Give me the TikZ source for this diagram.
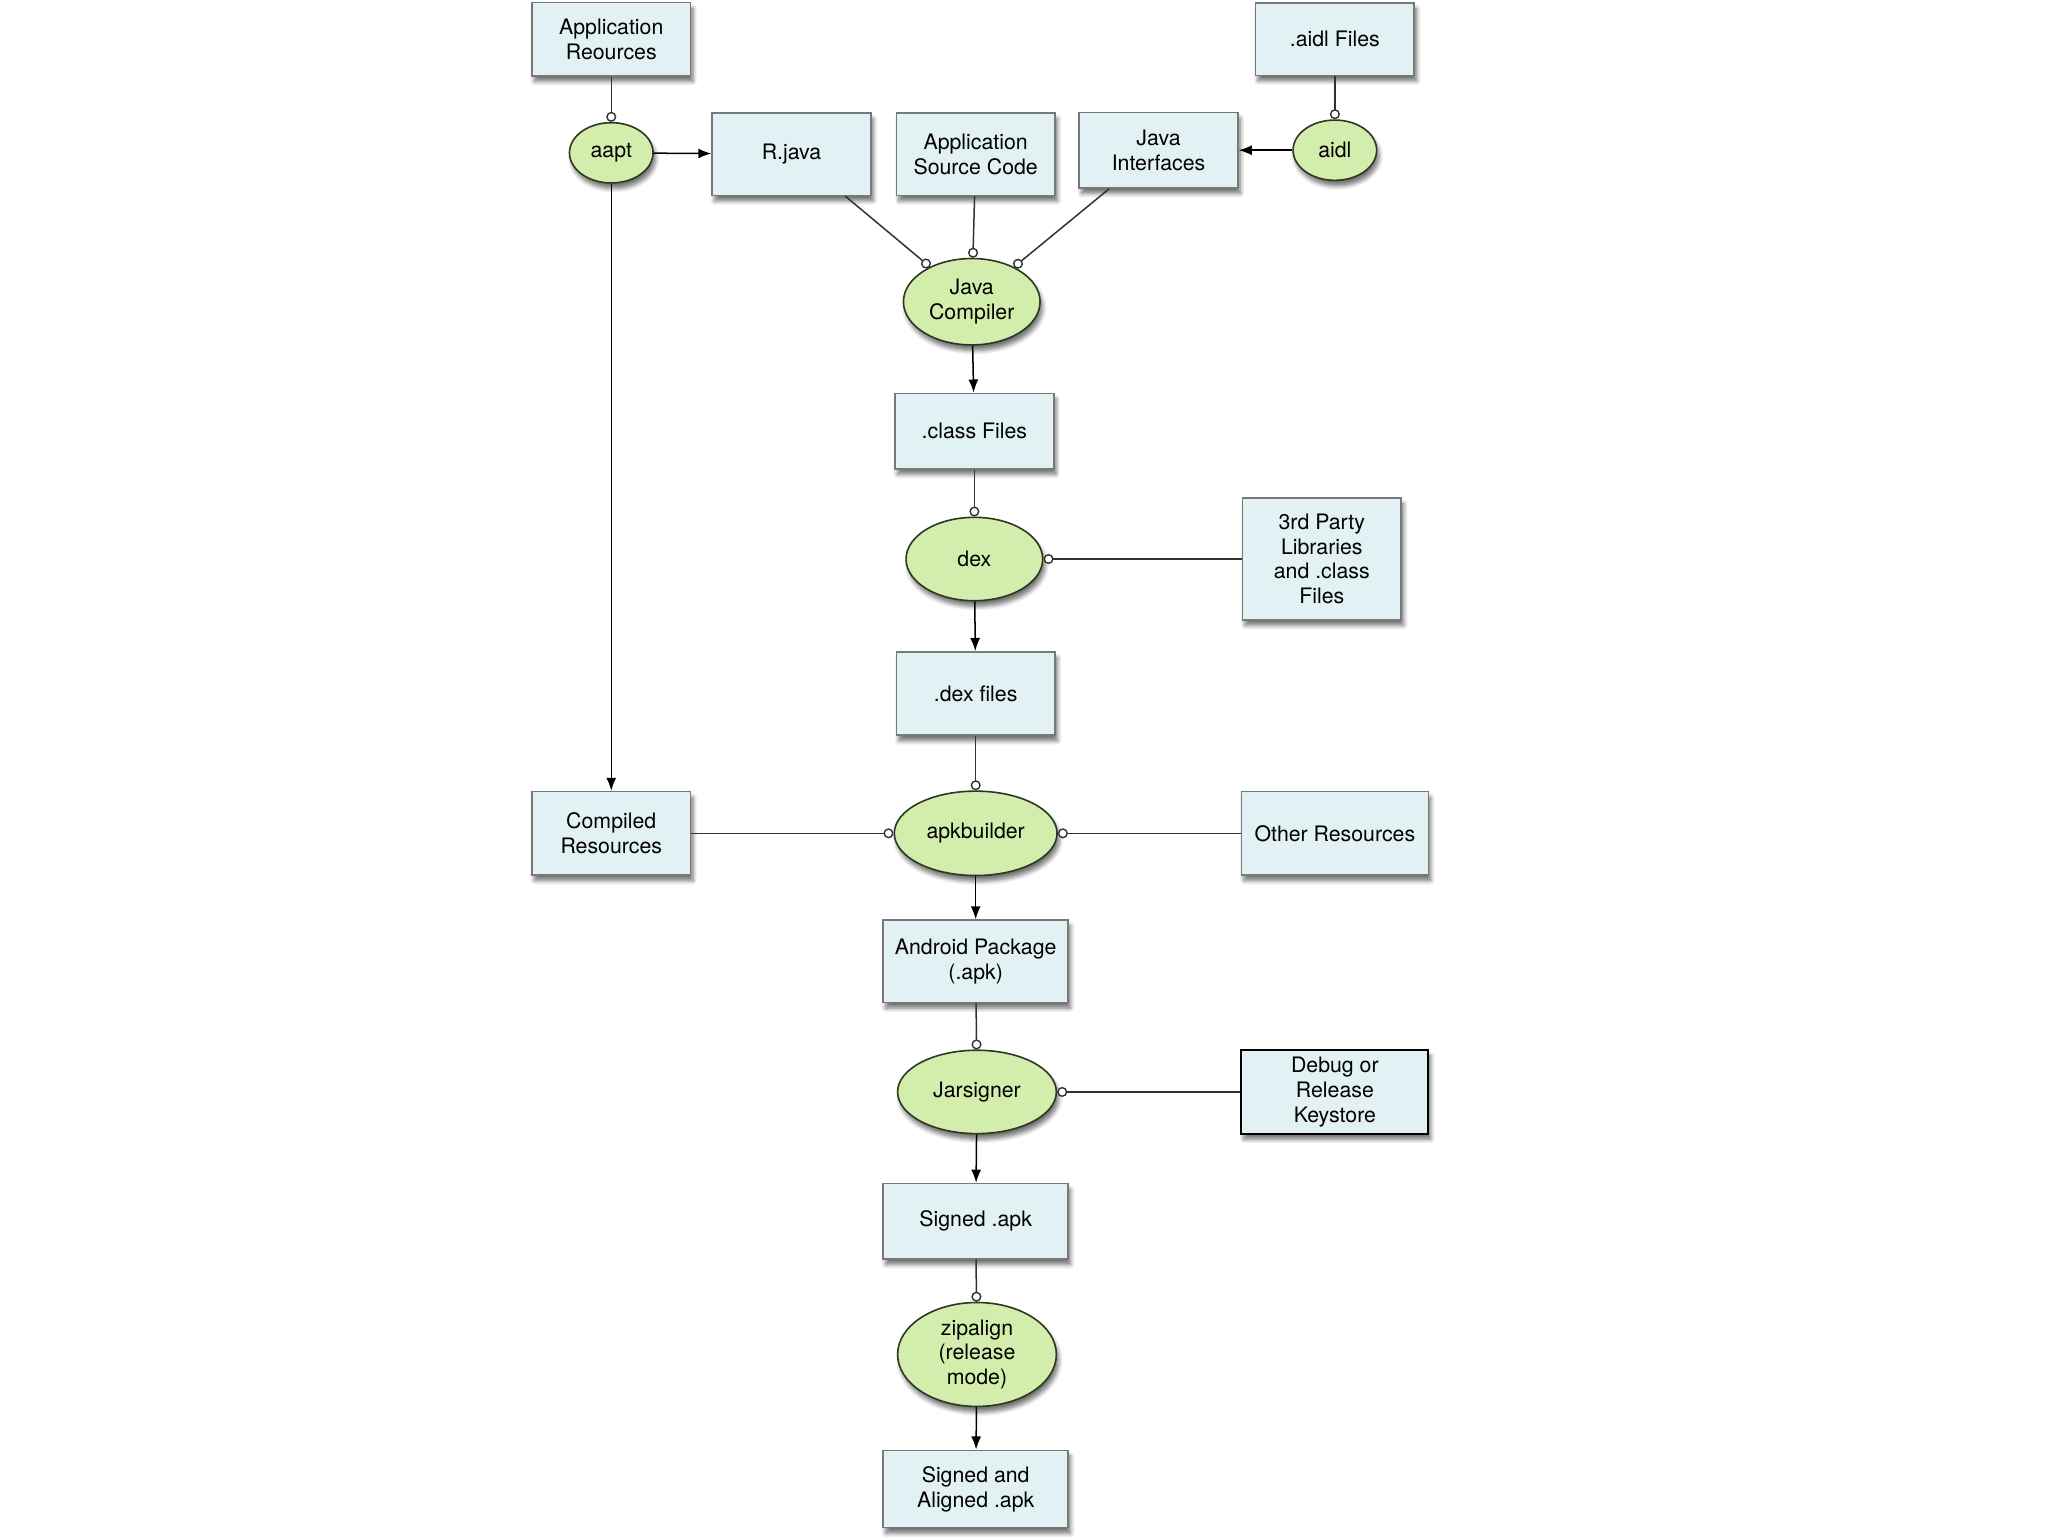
\documentclass[tikz,border=0pt]{standalone}
\usepackage{fontspec}
\setmainfont{TeX Gyre Heros}
\usetikzlibrary{arrows.meta,shapes.geometric,shadows.blur}
\definecolor{boxfill}{RGB}{226,241,243}
\definecolor{boxline}{RGB}{120,120,120}
\definecolor{ellfill}{RGB}{211,238,172}
\definecolor{ellline}{RGB}{45,55,35}
\definecolor{conn}{RGB}{50,50,50}
\tikzset{
  base/.style={font=\fontsize{10.6}{12.3}\selectfont, align=center, inner sep=1pt,
    blur shadow={shadow xshift=1.2pt, shadow yshift=-2.8pt, shadow blur steps=6, shadow opacity=55}},
  pbox/.style={base, rectangle, draw=boxline, fill=boxfill, line width=0.8pt,
    minimum width=79pt},
  kbox/.style={pbox, draw=black, line width=1pt},
  tool/.style={base, ellipse, draw=ellline, fill=ellfill, line width=0.8pt},
  feed/.style={draw=conn, line width=0.75pt, -{Circle[open,length=5pt,fill=white,line width=0.7pt]}},
  prod/.style={draw=black, line width=0.75pt, -{Latex[length=6.5pt,width=5pt]}},
}
\begin{document}
\begin{tikzpicture}[x=0.65pt,y=-0.65pt]
\useasboundingbox (0,0) rectangle (1568,1176);
% boxes
\node[pbox, minimum height=36.5pt] (appres) at (468,30) {Application\\Reources};
\node[pbox, minimum height=41pt] (rjava) at (606,118) {R.java};
\node[pbox, minimum height=41pt] (appsrc) at (747,118) {Application\\Source Code};
\node[pbox, minimum height=37.5pt] (jint) at (887,115) {Java\\Interfaces};
\node[pbox, minimum height=36pt] (aidlf) at (1022,30) {.aidl Files};
\node[pbox, minimum height=37.5pt] (classf) at (746,330) {.class Files};
\node[pbox, minimum height=60.5pt] (third) at (1012,428) {3rd Party\\Libraries\\and .class\\Files};
\node[pbox, minimum height=41.5pt] (dexf) at (747,531) {.dex files};
\node[pbox, minimum height=41.5pt] (compres) at (468,638) {Compiled\\Resources};
\node[pbox, minimum width=93pt, minimum height=41.5pt] (otherres) at (1022,638) {Other Resources};
\node[pbox, minimum width=92pt, minimum height=41pt] (apk) at (747,736) {Android Package\\(.apk)};
\node[kbox, minimum width=93pt, minimum height=41.5pt] (keystore) at (1022,836) {Debug or\\Release\\Keystore};
\node[pbox, minimum width=92pt, minimum height=37.5pt] (signed) at (747,935) {Signed .apk};
\node[pbox, minimum width=92pt, minimum height=38.5pt] (aligned) at (747,1140) {Signed and\\Aligned .apk};
% tools
\node[tool, minimum width=41.6pt, minimum height=30pt] (aapt) at (468,117) {aapt};
\node[tool, minimum width=41.6pt, minimum height=30pt] (aidl) at (1022,115) {aidl};
\node[tool, minimum width=68pt, minimum height=43pt] (jc) at (744,231) {Java\\Compiler};
\node[tool, minimum width=68pt, minimum height=41.5pt] (dex) at (746,428) {dex};
\node[tool, minimum width=81pt, minimum height=42pt] (apkb) at (747,638) {apkbuilder};
\node[tool, minimum width=79pt, minimum height=41.5pt] (jar) at (748,836) {Jarsigner};
\node[tool, minimum width=79pt, minimum height=43pt] (zip) at (748,1037) {zipalign\\(release\\mode)};
% connectors
\draw[feed] (appres) -- (aapt);
\draw[prod] (aapt) -- (rjava);
\draw[prod] (aapt) -- (compres);
\draw[feed] (aidlf) -- (aidl);
\draw[prod] (aidl) -- (jint);
\draw[feed] (rjava.-38) -- (jc);
\draw[feed] (appsrc) -- (jc);
\draw[feed] (jint.-142) -- (jc);
\draw[prod] (jc) -- (classf);
\draw[feed] (classf) -- (dex);
\draw[feed] (third) -- (dex);
\draw[prod] (dex) -- (dexf);
\draw[feed] (dexf) -- (apkb);
\draw[feed] (compres) -- (apkb);
\draw[feed] (otherres) -- (apkb);
\draw[prod] (apkb) -- (apk);
\draw[feed] (apk) -- (jar);
\draw[feed] (keystore) -- (jar);
\draw[prod] (jar) -- (signed);
\draw[feed] (signed) -- (zip);
\draw[prod] (zip) -- (aligned);
\end{tikzpicture}
\end{document}
